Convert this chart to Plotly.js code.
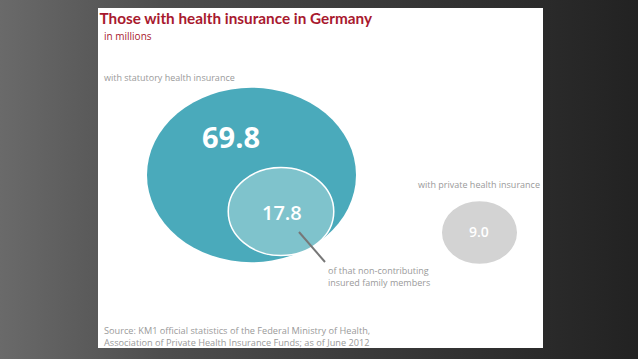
<!DOCTYPE html>
<html>
<head>
<meta charset="utf-8">
<script src="https://cdn.plot.ly/plotly-3.0.1.min.js"></script>
<style>
html,body{margin:0;padding:0;}
#chart{width:638px;height:359px;background:linear-gradient(to right,#6a6a6a 0%,#4e4e4e 25%,#333 70%,#222 100%);}
</style>
</head>
<body>
<div id="chart"></div>
<script>
// Data (millions of people)
const groups = ["with statutory health insurance", "of that non-contributing insured family members", "with private health insurance"];
const values = [69.8, 17.8, 9.0];
const titleText = "Those with health insurance in Germany";
const unitText = "in millions";
const sourceLines = ["Source: KM1 official statistics of the Federal Ministry of Health,", "Association of Private Health Insurance Funds; as of June 2012"];

// Layout / style
const FONT = "Open Sans, Noto Sans, sans-serif";
const centers = [[251.5, 175], [281, 211.5], [479.5, 232.5]];
const fills = ["#4aaabb", "#7fc3cc", "#d3d3d3"];
const lines = ["rgba(0,0,0,0)", "#ffffff", "rgba(0,0,0,0)"];
const k = 104.5 / Math.sqrt(values[0]);
const aspect = 0.835;

const shapes = values.map((v, i) => {
  const rx = k * Math.sqrt(v), ry = rx * aspect;
  const [cx, cy] = centers[i];
  return {type: "circle", xref: "x", yref: "y", x0: cx - rx, x1: cx + rx, y0: cy - ry, y1: cy + ry,
          fillcolor: fills[i], line: {color: lines[i], width: i === 1 ? 1.5 : 0}, layer: "below"};
});
shapes.push({type: "line", xref: "x", yref: "y", x0: 299, y0: 232, x1: 325, y1: 262, line: {color: "#777", width: 2}});

const valueFonts = [{size: 29, weight: 700}, {size: 20, weight: 600}, {size: 14, weight: 600}];
const valuePos = [[231, 136], [282, 212], [479, 231]];
const ann = values.map((v, i) => ({
  xref: "x", yref: "y", x: valuePos[i][0], y: valuePos[i][1], text: v.toFixed(1), showarrow: false,
  font: {family: FONT, size: valueFonts[i].size, weight: valueFonts[i].weight, color: "#ffffff"}
}));
const gray = "#9a9a9a";
ann.push({xref: "x", yref: "y", x: 102, y: 77, xanchor: "left", text: groups[0], showarrow: false, font: {family: FONT, size: 9, color: gray}});
ann.push({xref: "x", yref: "y", x: 542, y: 184, xanchor: "right", text: groups[2], showarrow: false, font: {family: FONT, size: 9, color: gray}});
ann.push({xref: "x", yref: "y", x: 326, y: 276.5, xanchor: "left", align: "left", text: "of that non-contributing<br>insured family members", showarrow: false, font: {family: FONT, size: 9, color: gray}});
ann.push({xref: "x", yref: "y", x: 102, y: 336.5, xanchor: "left", align: "left", text: sourceLines.join("<br>"), showarrow: false, font: {family: FONT, size: 9.2, color: gray}});
ann.push({xref: "x", yref: "y", x: 102, y: 36, xanchor: "left", text: unitText, showarrow: false, font: {family: FONT, size: 10, color: "#a8192e"}});

const layout = {
  width: 638, height: 359,
  margin: {l: 98, r: 95, t: 8, b: 11},
  paper_bgcolor: "rgba(0,0,0,0)", plot_bgcolor: "#ffffff",
  title: {text: "<b>" + titleText + "</b>", x: 99.5 / 638, xanchor: "left", xref: "container", y: 1 - 18.5 / 359, yref: "container", yanchor: "middle",
          font: {family: "Lato, Open Sans, sans-serif", size: 15.3, color: "#a8192e"}},
  xaxis: {range: [98, 543], visible: false, fixedrange: true},
  yaxis: {range: [348, 8], visible: false, fixedrange: true},
  shapes: shapes, annotations: ann, showlegend: false
};
Plotly.newPlot("chart", [{x: [], y: [], type: "scatter", hoverinfo: "skip"}], layout, {staticPlot: true});
</script>
</body>
</html>
